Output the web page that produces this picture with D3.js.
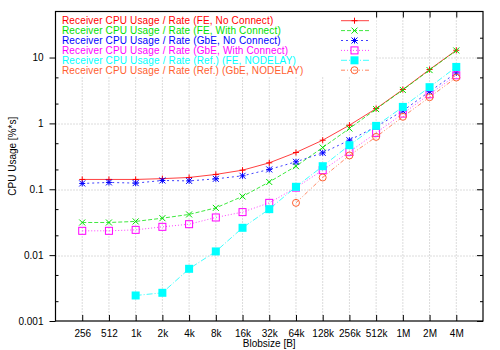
<!DOCTYPE html>
<html>
<head>
<meta charset="utf-8">
<script src="https://cdn.jsdelivr.net/npm/d3@7"></script>
<style>
body { margin: 0; background: #fff; }
text { font-family: "Liberation Sans", Arial, sans-serif; }
</style>
</head>
<body>
<div id="chart"></div>
<script>
// Categorias (blobsize)
var sizes = ["256","512","1k","2k","4k","8k","16k","32k","64k","128k","256k","512k","1M","2M","4M"];

// Valores de cada serie (null = sem ponto)
var feNoConnect   = [0.141,0.141,0.141,0.145,0.151,0.168,0.195,0.252,0.362,0.556,0.94,1.68,3.27,6.58,12.9];
var feConnect     = [0.0313,0.0313,0.0325,0.0364,0.0415,0.0522,0.0778,0.129,0.224,0.43,0.837,1.65,3.22,6.45,12.8];
var gbeNoConnect  = [0.1225,0.127,0.124,0.136,0.134,0.144,0.16,0.2,0.261,0.357,0.556,0.89,1.55,3.05,5.84];
var gbeConnect    = [0.0234,0.0234,0.0242,0.0269,0.0295,0.0373,0.045,0.0622,0.106,0.195,0.37,0.718,1.41,2.77,5.38];
var refFeNodelay  = [null,null,0.00244,0.00268,0.0062,0.01138,0.026,0.0499,0.109,0.224,0.467,0.917,1.78,3.55,7.2];
var refGbeNodelay = [null,null,null,null,null,null,null,null,0.0622,0.151,0.326,0.624,1.26,2.5,4.97];

var yTicks = [0.001,0.01,0.1,1,10];
var yTickLabels = ["0.001","0.01","0.1","1","10"];

var series = [
	{name:"Receiver CPU Usage / Rate (FE, No Connect)", values:feNoConnect, color:"#ff0000", dash:null, marker:"plus"},
	{name:"Receiver CPU Usage / Rate (FE, With Connect)", values:feConnect, color:"#00e000", dash:"4,2", marker:"cross"},
	{name:"Receiver CPU Usage / Rate (GbE, No Connect)", values:gbeNoConnect, color:"#0000ff", dash:"2,3", marker:"star"},
	{name:"Receiver CPU Usage / Rate (GbE, With Connect)", values:gbeConnect, color:"#ff00ff", dash:"1,2", marker:"square"},
	{name:"Receiver CPU Usage / Rate (Ref.) (FE, NODELAY)", values:refFeNodelay, color:"#00ffff", dash:"6,2,1,2", marker:"fsquare"},
	{name:"Receiver CPU Usage / Rate (Ref.) (GbE, NODELAY)", values:refGbeNodelay, color:"#ff6030", dash:"4,2,1,2,1,2", marker:"circle"}
];

// Tamanho do svg
var w = 500, h = 350;
var margin = {top: 11.5, right: 17, bottom: 29, left: 55.5};
var width = w - margin.left - margin.right;
var height = h - margin.top - margin.bottom;

var svg = d3.select("#chart").append("svg")
	.attr("width", w)
	.attr("height", h)
	.append("g")
	.attr("transform", "translate(" + margin.left + "," + margin.top + ")");

// Escalas
var x = d3.scaleLinear().domain([-1, sizes.length]).range([0, width]);
var y = d3.scaleLog().domain([0.001, 50]).range([height, 0]);

// Grade
var gridColor = "#b8b8b8";
svg.selectAll(".vgrid").data(sizes).enter().append("line")
	.attr("x1", function(d,i){ return x(i); })
	.attr("x2", function(d,i){ return x(i); })
	.attr("y1", 0).attr("y2", height)
	.attr("stroke", gridColor).attr("stroke-width", 1)
	.attr("stroke-dasharray", "1,2");
svg.selectAll(".hgrid").data(yTicks.slice(1)).enter().append("line")
	.attr("x1", 0).attr("x2", width)
	.attr("y1", function(d){ return Math.round(y(d)) + 0.5; })
	.attr("y2", function(d){ return Math.round(y(d)) + 0.5; })
	.attr("stroke", gridColor).attr("stroke-width", 1)
	.attr("stroke-dasharray", "1,2");

// Eixos
var minor = [];
yTicks.forEach(function(t){ [2,5].forEach(function(m){ if (t*m < 50) minor.push(t*m); }); });

var yAxis = d3.axisLeft(y).tickValues(yTicks).tickFormat(function(d,i){ return yTickLabels[i]; }).tickSize(6).tickPadding(6);
var yAxisR = d3.axisRight(y).tickValues(yTicks).tickFormat("").tickSize(-6);
var yMinorL = d3.axisLeft(y).tickValues(minor).tickFormat("").tickSize(-3);
var yMinorR = d3.axisRight(y).tickValues(minor).tickFormat("").tickSize(-3);
var xAxis = d3.axisBottom(x).tickValues(d3.range(sizes.length)).tickFormat(function(d){ return sizes[d]; }).tickSize(-6).tickPadding(9);
var xAxisT = d3.axisTop(x).tickValues(d3.range(sizes.length)).tickFormat("").tickSize(-6);

function styleAxis(g){
	g.select(".domain").remove();
	g.selectAll("line").attr("stroke", "#000");
	g.selectAll("text").attr("font-size", "10px").attr("fill", "#000")
		.attr("font-family", "'Liberation Sans', Arial, sans-serif");
}

svg.append("g").call(yAxis).call(styleAxis);
svg.append("g").call(yMinorL).call(styleAxis);
svg.append("g").attr("transform", "translate(" + width + ",0)").call(yAxisR).call(styleAxis);
svg.append("g").attr("transform", "translate(" + width + ",0)").call(yMinorR).call(styleAxis);
svg.append("g").attr("transform", "translate(0," + height + ")").call(xAxis).call(styleAxis);
svg.append("g").call(xAxisT).call(styleAxis);

// Fundo da legenda (opaco)
svg.append("rect").attr("x", 0.5).attr("y", 0.5).attr("width", 320).attr("height", 64).attr("fill", "#fff");

// Linhas e marcadores
function drawMarker(g, type, cx, cy, color){
	var s = 3;
	if (type == "plus" || type == "star"){
		g.append("path").attr("d", "M"+(cx-s)+","+cy+"H"+(cx+s)+"M"+cx+","+(cy-s)+"V"+(cy+s))
			.attr("stroke", color).attr("stroke-width", 1).attr("fill", "none");
	}
	if (type == "cross" || type == "star"){
		g.append("path").attr("d", "M"+(cx-s)+","+(cy-s)+"L"+(cx+s)+","+(cy+s)+"M"+(cx-s)+","+(cy+s)+"L"+(cx+s)+","+(cy-s))
			.attr("stroke", color).attr("stroke-width", 1).attr("fill", "none");
	}
	if (type == "square"){
		g.append("rect").attr("x", cx-3.5).attr("y", cy-3.5).attr("width", 7).attr("height", 7)
			.attr("stroke", color).attr("stroke-width", 1).attr("fill", "none");
	}
	if (type == "fsquare"){
		g.append("rect").attr("x", cx-4).attr("y", cy-4).attr("width", 8).attr("height", 8)
			.attr("fill", color);
	}
	if (type == "circle"){
		g.append("circle").attr("cx", cx).attr("cy", cy).attr("r", 3.5)
			.attr("stroke", color).attr("stroke-width", 1).attr("fill", "none");
	}
}

var line = d3.line()
	.defined(function(d){ return d != null; })
	.x(function(d,i){ return x(i); })
	.y(function(d){ return y(d); });

series.forEach(function(s){
	var g = svg.append("g");
	g.append("path").datum(s.values)
		.attr("d", line)
		.attr("fill", "none")
		.attr("stroke", s.color)
		.attr("stroke-opacity", 0.75)
		.attr("stroke-width", 1)
		.attr("stroke-dasharray", s.dash);
	s.values.forEach(function(v,i){
		if (v != null) drawMarker(g, s.marker, x(i), y(v), s.color);
	});
});

// Legenda
series.forEach(function(s,i){
	var ly = 9.2 + i * 9.9;
	svg.append("text")
		.attr("x", 6.5).attr("y", ly + 3.5)
		.attr("font-size", "10px")
		.attr("letter-spacing", "0.15px")
		.attr("fill", s.color)
		.text(s.name);
	var g = svg.append("g");
	g.append("line")
		.attr("x1", 285.5).attr("x2", 313.5)
		.attr("y1", ly).attr("y2", ly)
		.attr("stroke", s.color).attr("stroke-opacity", 0.75)
		.attr("stroke-dasharray", s.dash);
	drawMarker(g, s.marker, 299, ly, s.color);
});

// Moldura
svg.append("rect").attr("x", 0).attr("y", 0).attr("width", width).attr("height", height)
	.attr("fill", "none").attr("stroke", "#000").attr("stroke-width", 1.2);

// Titulos dos eixos
svg.append("text")
	.attr("x", width / 2).attr("y", height + 26)
	.attr("text-anchor", "middle").attr("font-size", "10px")
	.text("Blobsize [B]");
svg.append("text")
	.attr("transform", "translate(" + (-40) + "," + (height / 2 - 10) + ") rotate(-90)")
	.attr("text-anchor", "middle").attr("font-size", "10px")
	.text("CPU Usage [%*s]");
</script>
</body>
</html>
